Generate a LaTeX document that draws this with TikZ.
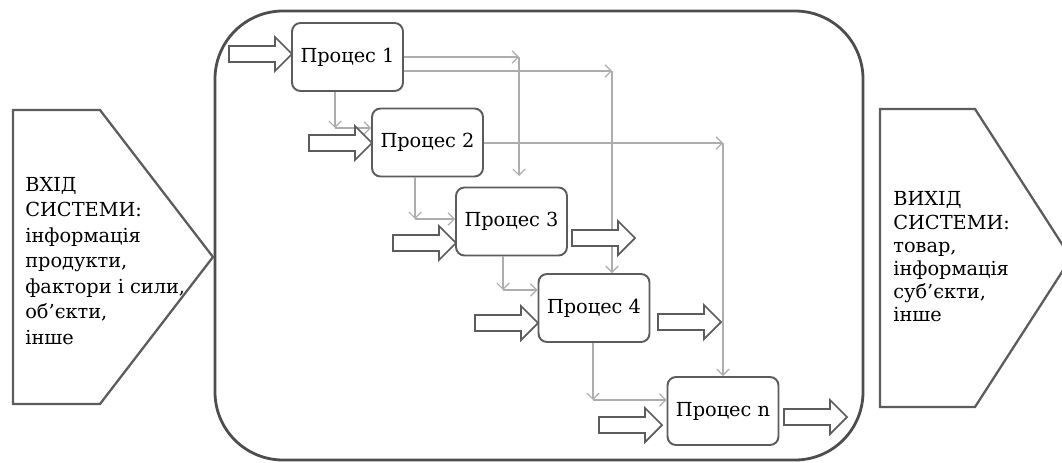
\documentclass[tikz,border=0pt]{standalone}
\usepackage{fontspec}
\setmainfont{DejaVu Serif}
\usetikzlibrary{arrows.meta}
\definecolor{framegray}{HTML}{4D4D4D}
\definecolor{boxgray}{HTML}{5C5C5C}
\definecolor{linkgray}{HTML}{ADADAD}
\tikzset{
    proc/.style={draw=boxgray, line width=1.1pt, rounded corners=0.17cm, fill=white,
        minimum width=2.22cm, minimum height=1.36cm, font=\fontsize{11}{13}\selectfont},
    flow/.style={draw=linkgray, line width=0.7pt, -{Straight Barb[length=3.5pt,width=7pt]}},
    fat/.style={draw=boxgray, line width=1pt, fill=white, line join=miter},
    side/.style={draw=boxgray, line width=1.3pt},
    sidetext/.style={align=left, anchor=west, inner sep=0pt},
    blockarr/.pic={\draw[fat] (0,0) -- (-17,-17) -- (-17,-8) -- (-63,-8) -- (-63,8) -- (-17,8) -- (-17,17) -- cycle;}
}
\begin{document}
\begin{tikzpicture}[x=0.02cm, y=-0.02cm]
        \useasboundingbox (0,0) rectangle (1062,463);
        \draw[draw=framegray, line width=1.6pt, rounded corners=1.36cm] (215,11) rectangle (863,460);
        \draw[side] (13,110) -- (100,110) -- (213,257) -- (100,404) -- (13,404) -- cycle;
        \draw[side] (880,109) -- (975,109) -- (1071,258) -- (975,407) -- (880,407) -- cycle;
        \node[sidetext, font=\fontsize{11}{14.5}\selectfont] (inlabel) at (25,261) {ВХІД\\СИСТЕМИ:\\інформація\\продукти,\\фактори і сили,\\об’єкти,\\інше};
        \node[sidetext, font=\fontsize{11}{13.2}\selectfont] (outlabel) at (893,257) {ВИХІД\\СИСТЕМИ:\\товар,\\інформація\\суб’єкти,\\інше};

        \node[proc] (p1) at (347.5,57) {Процес 1};
        \node[proc] (p2) at (427.5,142.5) {Процес 2};
        \node[proc] (p3) at (511.5,221.5) {Процес 3};
        \node[proc] (p4) at (594,308) {Процес 4};
        \node[proc] (pn) at (723,411) {Процес n};

        \coordinate (t1) at (519,57);
        \coordinate (e1) at (519,176);
        \coordinate (t2) at (612,71);
        \coordinate (t3) at (723,143);
        \coordinate (k1) at (335,128);
        \coordinate (k2) at (415,219);
        \coordinate (k3) at (503,290);
        \coordinate (k4) at (593,400);

        \draw[flow] (p1.east) -- (t1);
        \draw[flow] (t1) -- (e1);
        \draw[flow] (p1.east |- t2) -- (t2);
        \draw[flow] (t2) -- (t2 |- p4.north);
        \draw[flow] (p2.east |- t3) -- (t3);
        \draw[flow] (t3) -- (pn.north);
        \draw[flow] (p1.south -| k1) -- (k1);
        \draw[flow] (k1) -- (k1 -| p2.west);
        \draw[flow] (p2.south -| k2) -- (k2);
        \draw[flow] (k2) -- (k2 -| p3.west);
        \draw[flow] (p3.south -| k3) -- (k3);
        \draw[flow] (k3) -- (k3 -| p4.west);
        \draw[flow] (p4.south -| k4) -- (k4);
        \draw[flow] (k4) -- (k4 -| pn.west);

        \pic at (292,54) {blockarr};
        \pic at (372,143) {blockarr};
        \pic at (456,243) {blockarr};
        \pic at (538,323) {blockarr};
        \pic at (662,425) {blockarr};
        \pic at (635,238) {blockarr};
        \pic at (721,322) {blockarr};
        \pic at (847,417) {blockarr};
    \end{tikzpicture}
\end{document}
